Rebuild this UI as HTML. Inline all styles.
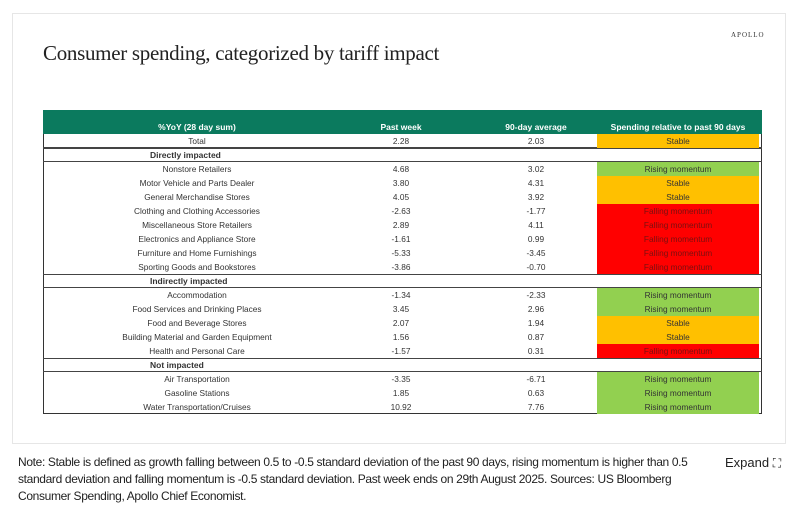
<!DOCTYPE html>
<html><head><meta charset="utf-8"><style>
body{margin:0;width:800px;height:507px;background:#fff;position:relative;overflow:hidden;font-family:"Liberation Sans",sans-serif}
#card{position:absolute;left:12px;top:13px;width:774px;height:431px;border:1px solid #e6e6e6;box-sizing:border-box}
#title{position:absolute;left:43px;top:41px;font-family:"Liberation Serif",serif;font-size:21px;color:#222;letter-spacing:-0.3px}
#logo{position:absolute;left:731px;top:31px;font-family:"Liberation Serif",serif;font-size:7px;letter-spacing:1px;color:#333}
#tbl{position:absolute;left:0;top:0}
.c{position:absolute;font-size:8.3px;color:#333;text-align:center;line-height:14px;white-space:nowrap}
#note{position:absolute;left:18px;top:454px;font-size:12px;line-height:17px;color:#222;letter-spacing:-0.35px;white-space:nowrap}
#expand{position:absolute;left:725px;top:454px;font-size:13px;color:#222;line-height:17px}
</style></head><body>
<div id="card"></div>
<div id="title">Consumer spending, categorized by tariff impact</div>
<div id="logo">APOLLO</div>
<div id="tbl"></div>
<div id="note">Note: Stable is defined as growth falling between 0.5 to -0.5 standard deviation of the past 90 days, rising momentum is higher than 0.5<br>standard deviation and falling momentum is -0.5 standard deviation. Past week ends on 29th August 2025. Sources: US Bloomberg<br>Consumer Spending, Apollo Chief Economist.</div>
<div id="expand">Expand <span style="font-size:12px">⛶</span></div>
<script>
const categories=["Total","Directly impacted","Nonstore Retailers","Motor Vehicle and Parts Dealer","General Merchandise Stores","Clothing and Clothing Accessories","Miscellaneous Store Retailers","Electronics and Appliance Store","Furniture and Home Furnishings","Sporting Goods and Bookstores","Indirectly impacted","Accommodation","Food Services and Drinking Places","Food and Beverage Stores","Building Material and Garden Equipment","Health and Personal Care","Not impacted","Air Transportation","Gasoline Stations","Water Transportation/Cruises"];
const pastWeek=["2.28","","4.68","3.80","4.05","-2.63","2.89","-1.61","-5.33","-3.86","","-1.34","3.45","2.07","1.56","-1.57","","-3.35","1.85","10.92"];
const avg90=["2.03","","3.02","4.31","3.92","-1.77","4.11","0.99","-3.45","-0.70","","-2.33","2.96","1.94","0.87","0.31","","-6.71","0.63","7.76"];
const status=["Stable","","Rising momentum","Stable","Stable","Falling momentum","Falling momentum","Falling momentum","Falling momentum","Falling momentum","","Rising momentum","Rising momentum","Stable","Stable","Falling momentum","","Rising momentum","Rising momentum","Rising momentum"];
const headers=["%YoY (28 day sum)","Past week","90-day average","Spending relative to past 90 days"];
const colors={"Stable":"#ffc000","Rising momentum":"#92d050","Falling momentum":"#ff0000"};
const T=document.getElementById('tbl');
const L=43,R=762,TOP=110,HH=24,RH=14;
const colC=[197,401,536,678];
function mk(x,y,w,h,css){const d=document.createElement('div');d.style.cssText=`position:absolute;left:${x}px;top:${y}px;width:${w}px;height:${h}px;${css||''}`;T.appendChild(d);return d;}
const hdr=mk(L,TOP,R-L,HH,'background:#0b7a5e');


headers.forEach((h,i)=>{const d=mk(colC[i]-100,TOP+11,200,12);d.className='c';d.style.cssText+=';color:#fff;font-weight:bold;font-size:8.5px;line-height:12px';d.textContent=h;

});
const bodyTop=TOP+HH;
const fr=mk(L,bodyTop,R-L,categories.length*RH,'border:1px solid #333;box-sizing:border-box;border-top:none');


categories.forEach((c,i)=>{
 const y=bodyTop+i*RH;
 const sec=pastWeek[i]==="";
 if(sec){const b=mk(L,y,R-L,RH,'border-top:1px solid #444;border-bottom:1px solid #444;box-sizing:border-box');
 
 }
 if(i===0){const b=mk(L,y+RH-1,R-L,1,'background:#444');}
 if(status[i]){const s=mk(597,y,162,RH,'background:'+colors[status[i]]);
 
 }
 const lab=mk(sec?150:colC[0]-150,y,sec?200:300,RH);lab.className='c';
 if(sec){lab.style.textAlign='left';lab.style.fontWeight='bold';lab.style.fontSize='8.5px';}
 lab.textContent=c;
 
 
 [pastWeek[i],avg90[i],status[i]].forEach((v,j)=>{if(!v)return;const d=mk(colC[j+1]-80,y,160,RH);d.className='c';d.textContent=v;
 if(j===2&&v==="Falling momentum")d.style.color='#7a1010';
 
 });
});
</script>
</body></html>
